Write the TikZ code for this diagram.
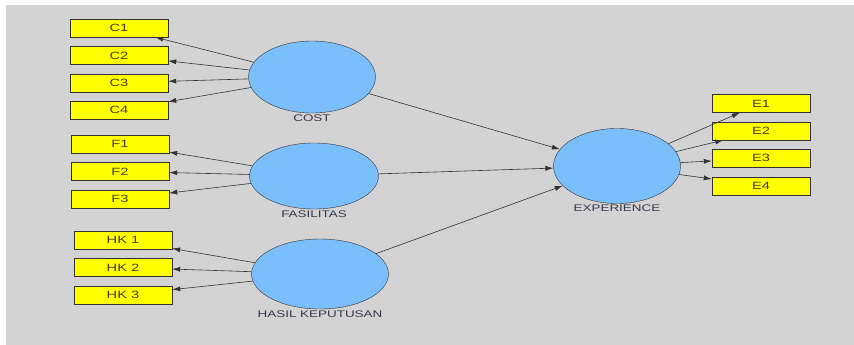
\documentclass[tikz,border=0pt]{standalone}
\usepackage{fontspec}
\setmainfont{Liberation Sans}[FakeStretch=1.4]
\usetikzlibrary{positioning,shapes.geometric,arrows.meta}

\definecolor{plsgray}{RGB}{211,211,211}
\definecolor{plsblue}{RGB}{122,190,252}
\definecolor{plsyellow}{RGB}{255,255,0}
\definecolor{plsline}{RGB}{50,50,50}
\definecolor{plstext}{RGB}{70,60,10}
\definecolor{plslabel}{RGB}{55,55,75}

\tikzstyle{item} = [rectangle, minimum width=98pt, minimum height=18pt, inner sep=0pt, text centered, draw=plsline, fill=plsyellow, text=plstext, font=\fontsize{10.5}{12}\selectfont]
\tikzstyle{construct} = [ellipse, minimum width=127pt, minimum height=72pt, inner sep=0pt, draw=plsline, fill=plsblue, label distance=1pt]
\tikzstyle{caption} = [text=plslabel, inner sep=1pt, font=\fontsize{9.6}{11}\selectfont]
\tikzstyle{arrow} = [line width=0.6pt, draw=plsline, ->, >={Latex[length=8pt,width=5pt]}]

\begin{document}
\begin{tikzpicture}[x=1pt, y=-1pt, node distance=27.4pt]

		\fill [white] (0,0) rectangle (854,345);
		\fill [plsgray] (6,5) rectangle (854,345);
		\useasboundingbox (0,0) rectangle (854,345);

		\node (cost) [construct, label={[caption]below:COST}] at (312,77) {};
		\node (fas) [construct, minimum width=129pt, minimum height=66pt, label={[caption]below:FASILITAS}] at (314,176) {};
		\node (hk) [construct, minimum width=137pt, minimum height=70pt, label={[caption]below:HASIL KEPUTUSAN}] at (320,274) {};
		\node (exp) [construct, minimum height=75pt, label={[caption]below:EXPERIENCE}] at (617,166) {};

		\node (c1) [item, left of= cost, xshift=-165.6pt, yshift=49pt] {C1};
		\node (c2) [item, below of= c1] {C2};
		\node (c3) [item, below of= c2] {C3};
		\node (c4) [item, below of= c3] {C4};

		\node (f1) [item, left of= fas, xshift=-166.6pt, yshift=32pt] {F1};
		\node (f2) [item, below of= f1] {F2};
		\node (f3) [item, below of= f2] {F3};

		\node (hk1) [item, left of= hk, xshift=-169.6pt, yshift=34pt] {HK 1};
		\node (hk2) [item, below of= hk1] {HK 2};
		\node (hk3) [item, below of= hk2] {HK 3};

		\node (e1) [item, right of= exp, xshift=116.6pt, yshift=62.5pt] {E1};
		\node (e2) [item, below of= e1] {E2};
		\node (e3) [item, below of= e2] {E3};
		\node (e4) [item, below of= e3] {E4};

		\draw [arrow] (cost) -- (c1);
		\draw [arrow] (cost) -- (c2);
		\draw [arrow] (cost) -- (c3);
		\draw [arrow] (cost) -- (c4);
		\draw [arrow] (fas) -- (f1);
		\draw [arrow] (fas) -- (f2);
		\draw [arrow] (fas) -- (f3);
		\draw [arrow] (hk) -- (hk1);
		\draw [arrow] (hk) -- (hk2);
		\draw [arrow] (hk) -- (hk3);
		\draw [arrow] (exp) -- (e1);
		\draw [arrow] (exp) -- (e2);
		\draw [arrow] (exp) -- (e3);
		\draw [arrow] (exp) -- (e4);
		\draw [arrow] (cost) -- (exp);
		\draw [arrow] (fas) -- (exp);
		\draw [arrow] (hk) -- (exp);
		\end{tikzpicture}
\end{document}
